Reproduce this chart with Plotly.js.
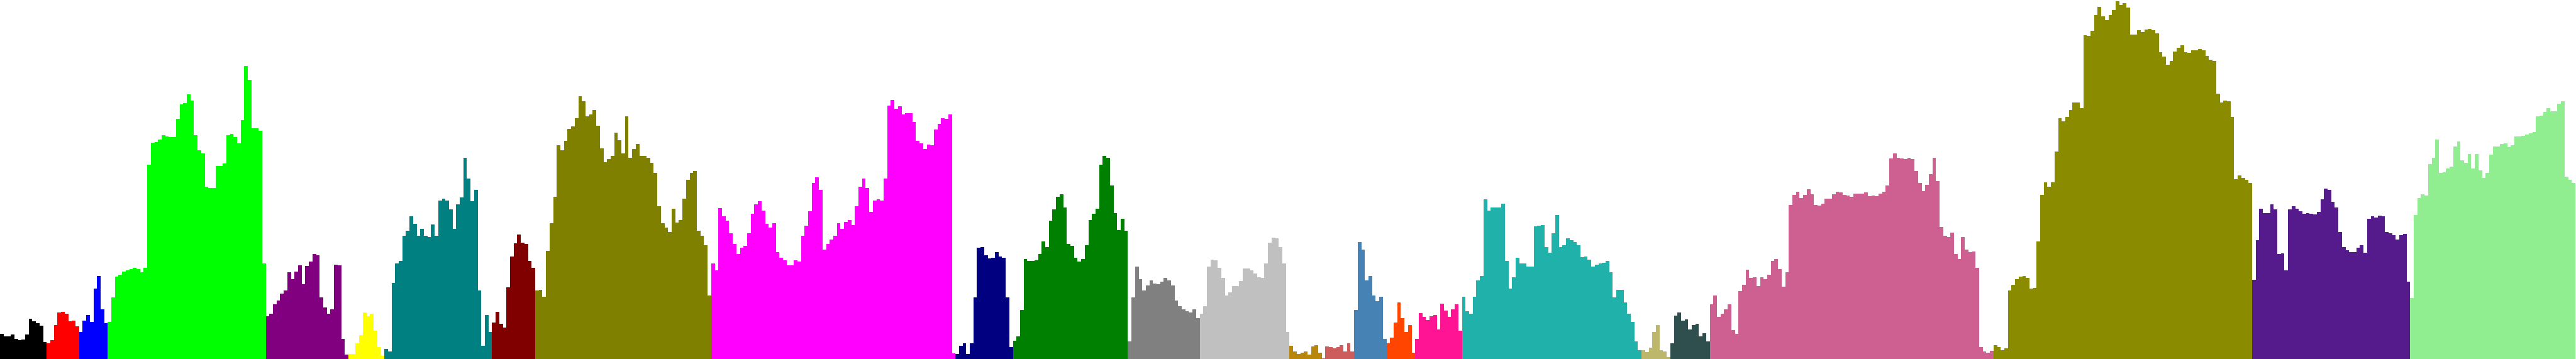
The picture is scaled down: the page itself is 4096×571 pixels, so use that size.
<!DOCTYPE html>
<html>
<head>
<meta charset="utf-8">
<script src="https://cdn.plot.ly/plotly-3.0.1.min.js"></script>
<style>
html,body{margin:0;padding:0;background:#ffffff;overflow:hidden}
#chart{width:4096px;height:571px}
</style>
</head>
<body>
<div id="chart"></div>
<script>
// Segment names, in plotting order
const segments = ["1","2","3","4","5","6","7","8","9","10","11","12","13","14","15","16","17","18","19","20","21","22","23","24","25","26"];

// Binned values per segment
const seg1  = [109,98,100,108,88,83,85,106,176,166,156,146,73];
const seg2  = [68,83,148,203,206,198,165,168,143];
const seg3  = [118,168,193,163,308,363,218,156];
const seg4  = [163,268,361,368,383,388,393,398,393,378,398,848,946,948,958,978,973,968,968,1048,1113,1118,1156,1128,978,913,898,753,748,748,843,843,853,978,983,968,943,1043,1280,1218,1008,1008,996,418];
const seg5  = [186,198,238,256,286,298,378,348,383,408,328,406,425,458,453,268,226,198,218,413,408,88,18];
const seg6  = [23,23,68,103,203,188,198,123,53,13];
const seg7  = [43,33,333,418,428,538,560,623,590,538,568,538,533,588,538,692,701,693,653,568,676,706,880,788,688,738,298,58,193,118];
const seg8  = [158,206,153,138,313,448,506,543,508,503,428,398];
const seg9  = [298,303,273,473,593,708,933,912,954,1005,1015,1053,1148,1125,1060,1068,1088,1018,921,860,873,887,988,956,898,1060,878,918,938,888,887,878,858,813,668,593,575,555,657,597,608,701,783,813,820,559,538,498,278];
const seg10 = [418,388,658,623,603,548,503,458,485,493,548,633,675,690,648,590,573,593,468,443,431,410,410,430,426,538,583,646,768,793,740,478,503,523,538,593,568,598,608,586,668,753,788,748,643,693,698,693,788,1108,1131,1093,1103,1068,1073,1073,1036,953,943,918,937,933,1003,1028,1053,1048,1068,25];
const seg11 = [23,58,68,23,68,268,486,488,453,440,443,468,448,442,268,53];
const seg12 = [81,98,215,438,428,428,430,458,513,488,603,653,708,720,663,503,493,443,426,436,496,608,633,656,848,886,878,758,638,563,613,560];
const seg13 = [78,268,403,348,298,320,343,330,328,338,353,343,320,255,231,218,210,203,216,178];
const seg14 = [198,230,403,435,432,398,353,276,290,318,318,340,396,395,386,373,356,353,418,508,531,528,488,418,118];
const seg15 = [58,33,23,28,33,18,56,60,28];
const seg16 = [3,56,53,48,53,60,33,68,33];
const seg17 = [214,510,478,343,363,278,252,273,88];
const seg18 = [70,93,160,248,178,118,148,28];
const seg19 = [88,200,183,170,188,193,128,243,211,183,218,240,123];
const seg20 = [273,208,198,273,343,363,697,648,663,663,663,678,428,308,358,443,418,418,403,403,580,583,585,488,463,548,628,488,498,528,520,510,498,446,448,433,403,413,418,420,428,378,268,303,301,248,198,163,78,38];
const seg21 = [38,30,50,118,148,38,33,8];
const seg22 = [68,190,203,168,173,128,148,153,98,113,78];
const seg23 = [238,278,183,198,216,238,126,111,296,323,390,353,358,318,358,348,368,428,438,393,315,378,673,716,730,703,718,741,719,673,670,678,700,700,720,731,729,718,713,708,723,721,723,727,711,715,711,723,730,758,875,898,878,876,874,880,874,821,768,734,760,808,878,778,578,538,533,553,458,438,532,478,466,470,398,53,33,28,36];
const seg24 = [61,53,38,46,300,323,350,360,362,353,308,310,513,718,773,753,773,906,1053,1038,1056,1088,1120,1120,1096,1415,1412,1433,1503,1538,1496,1481,1503,1523,1563,1546,1553,1536,1416,1418,1435,1428,1438,1442,1436,1423,1341,1320,1285,1302,1343,1360,1371,1339,1337,1347,1347,1354,1349,1323,1307,1302,1158,1120,1129,1126,1058,785,802,791,783,768];
const seg25 = [346,518,656,638,636,676,653,458,460,388,654,667,657,645,635,636,633,631,643,697,743,740,686,663,556,490,475,466,468,486,498,465,613,624,618,625,623,556,548,540,523,540,547,338];
const seg26 = [266,629,704,720,715,852,878,958,812,816,832,841,928,951,868,858,896,831,896,823,791,812,892,928,927,940,943,925,935,971,973,975,981,985,992,1059,1062,1078,1097,1083,1081,1116,1126,795,783,769];

const seriesValues = [seg1,seg2,seg3,seg4,seg5,seg6,seg7,seg8,seg9,seg10,seg11,seg12,seg13,seg14,seg15,seg16,seg17,seg18,seg19,seg20,seg21,seg22,seg23,seg24,seg25,seg26];

const palette = ["#000000","#FF0000","#0000FF","#00FF00","#800080","#FFFF00","#008080","#800000","#808000","#FF00FF","#000080","#008000","#808080","#C0C0C0","#B8860B","#CD5C5C","#4682B4","#FF4500","#FF1493","#20B2AA","#BDB76B","#2F4F4F","#CD6090","#8B8B00","#551A8B","#90EE90"];

const traces = [];
let offset = 0;
seriesValues.forEach((vals, k) => {
  const x = vals.map((_, i) => offset + i + 0.5);
  traces.push({
    type: 'bar',
    name: segments[k],
    x: x,
    y: vals,
    width: 1,
    marker: {color: palette[k], line: {width: 0}},
    hoverinfo: 'skip',
    showlegend: false
  });
  offset += vals.length;
});

const layout = {
  width: 4096,
  height: 571,
  margin: {l: 0, r: 0, t: 0, b: 0, pad: 0},
  paper_bgcolor: '#ffffff',
  plot_bgcolor: '#ffffff',
  barmode: 'overlay',
  bargap: 0,
  showlegend: false,
  xaxis: {range: [0, 4303 / 6], visible: false, showgrid: false, zeroline: false, fixedrange: true},
  yaxis: {range: [0, 1568], visible: false, showgrid: false, zeroline: false, fixedrange: true}
};

Plotly.newPlot('chart', traces, layout, {staticPlot: true, displayModeBar: false});
</script>
</body>
</html>
